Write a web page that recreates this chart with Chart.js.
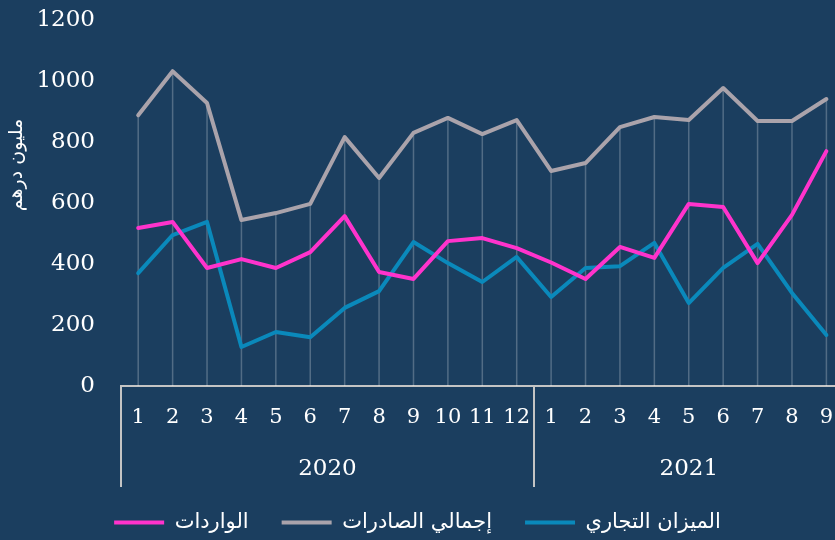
<!DOCTYPE html>
<html><head><meta charset="utf-8">
<script src="https://cdn.jsdelivr.net/npm/chart.js@4.4.1/dist/chart.umd.min.js"></script>
<style>
html,body{margin:0;padding:0;background:#1b3e5f;overflow:hidden;}
#c{display:block;background:#1b3e5f;}
</style></head><body>
<canvas id="c" width="835" height="540"></canvas>
<script>
// ---- data ----
const months = ['1','2','3','4','5','6','7','8','9','10','11','12','1','2','3','4','5','6','7','8','9'];
const years = ['2020','2021'];
const yearSpans = [12, 9];
const imports = [518,538,387,416,387,439,557,374,351,475,485,452,405,351,456,420,597,587,403,561,770];
const exportsTotal = [888,1032,928,544,567,597,816,682,830,879,826,872,705,731,849,882,872,977,869,869,941];
const balance = [370,495,538,128,177,160,256,311,472,403,341,423,292,387,393,469,272,387,466,305,167];
const seriesNames = ['الواردات','إجمالي الصادرات','الميزان التجاري'];
const yTicks = [0,200,400,600,800,1000,1200];
const yTitle = 'مليون درهم';

// ---- styles ----
const colors = ['#ff33cc','#aaa3ab','#0a89bb'];
const axisColor = '#c4c4c4';
const dropColor = 'rgba(255,255,255,0.24)';
const numFont = 'DejaVu Serif';
const arFont = 'DejaVu Sans';
const sepDepth = 101;

// year boundaries and centres (in category index units)
const bounds = [-0.5];
yearSpans.forEach(s => bounds.push(bounds[bounds.length-1] + s));
const yearCenters = yearSpans.map((s,i) => (bounds[i] + bounds[i+1]) / 2);
const xMin = -0.5, xMax = months.length - 0.75;

const series = [imports, exportsTotal, balance];
const datasets = series.map((vals, k) => ({
  label: seriesNames[k],
  data: vals.map((v, i) => ({x: i, y: v})),
  borderColor: colors[k],
  backgroundColor: colors[k],
  borderWidth: 4,
  pointRadius: 0,
  tension: 0,
  borderJoinStyle: 'round',
  borderCapStyle: 'round'
}));

const noPad = s => { s.paddingLeft = 0; s.paddingRight = 0; s.paddingTop = 0; s.paddingBottom = 0; };

const decor = {
  id: 'decor',
  beforeDatasetsDraw(chart) {
    const {ctx, chartArea} = chart;
    const xs = chart.scales.x, ys = chart.scales.y;
    ctx.save();
    ctx.strokeStyle = dropColor;
    ctx.lineWidth = 1.5;
    months.forEach((m, i) => {
      const top = Math.max(...series.map(s => s[i]));
      const px = xs.getPixelForValue(i);
      ctx.beginPath();
      ctx.moveTo(px, ys.getPixelForValue(top));
      ctx.lineTo(px, chartArea.bottom);
      ctx.stroke();
    });
    ctx.restore();
  },
  afterDraw(chart) {
    const {ctx, chartArea} = chart;
    const xs = chart.scales.x;
    ctx.save();
    ctx.strokeStyle = axisColor;
    ctx.lineWidth = 2;
    bounds.slice(0, -1).forEach(b => {
      const px = Math.round(xs.getPixelForValue(b));
      ctx.beginPath();
      ctx.moveTo(px, chartArea.bottom);
      ctx.lineTo(px, chartArea.bottom + sepDepth);
      ctx.stroke();
    });
    // y-axis title
    ctx.fillStyle = '#ffffff';
    ctx.font = '19px "' + arFont + '"';
    ctx.textAlign = 'center';
    ctx.textBaseline = 'middle';
    ctx.translate(17, chartArea.top + 145);
    ctx.rotate(-Math.PI / 2);
    ctx.fillText(yTitle, 0, 0);
    ctx.restore();
  }
};

new Chart(document.getElementById('c'), {
  type: 'line',
  data: {datasets},
  options: {
    responsive: false,
    animation: false,
    devicePixelRatio: 1,
    layout: {padding: {top: 20, left: 0, right: 0, bottom: 0}},
    plugins: {
      tooltip: {enabled: false},
      legend: {
        position: 'bottom',
        maxHeight: 61,
        labels: {
          color: '#ffffff',
          font: {family: arFont, size: 21},
          boxWidth: 50,
          boxHeight: 4,
          useBorderRadius: true,
          borderRadius: 2,
          padding: 33,
          generateLabels: chart => chart.data.datasets.map((d, i) => ({
            text: d.label, fillStyle: d.borderColor, strokeStyle: d.borderColor,
            lineWidth: 0, fontColor: '#ffffff', datasetIndex: i, hidden: false
          }))
        }
      }
    },
    scales: {
      x: {
        type: 'linear', position: 'bottom', weight: 0,
        min: xMin, max: xMax,
        afterBuildTicks: s => { s.ticks = months.map((_, i) => ({value: i})); },
        afterFit: s => { s.height = 55; noPad(s); },
        grid: {display: false, drawTicks: false},
        border: {display: true, color: axisColor, width: 2},
        ticks: {
          autoSkip: false, maxRotation: 0, minRotation: 0, padding: 19,
          color: '#ffffff', font: {family: numFont, size: 21},
          callback: v => months[v]
        }
      },
      x2: {
        type: 'linear', position: 'bottom', weight: 1,
        min: xMin, max: xMax,
        afterBuildTicks: s => { s.ticks = yearCenters.map(v => ({value: v})); },
        afterFit: s => { s.height = 38; noPad(s); },
        grid: {display: false, drawTicks: false},
        border: {display: false},
        ticks: {
          autoSkip: false, maxRotation: 0, minRotation: 0, padding: 14,
          color: '#ffffff', font: {family: numFont, size: 23},
          callback: v => years[yearCenters.indexOf(v)]
        }
      },
      y: {
        min: yTicks[0], max: yTicks[yTicks.length - 1],
        afterBuildTicks: s => { s.ticks = yTicks.map(v => ({value: v})); },
        afterFit: s => { s.width = 121; noPad(s); },
        grid: {display: false, drawTicks: false},
        border: {display: false},
        ticks: {padding: 26, color: '#ffffff', font: {family: numFont, size: 23},
          callback: v => String(v)}
      }
    }
  },
  plugins: [decor]
});
</script>
</body></html>
